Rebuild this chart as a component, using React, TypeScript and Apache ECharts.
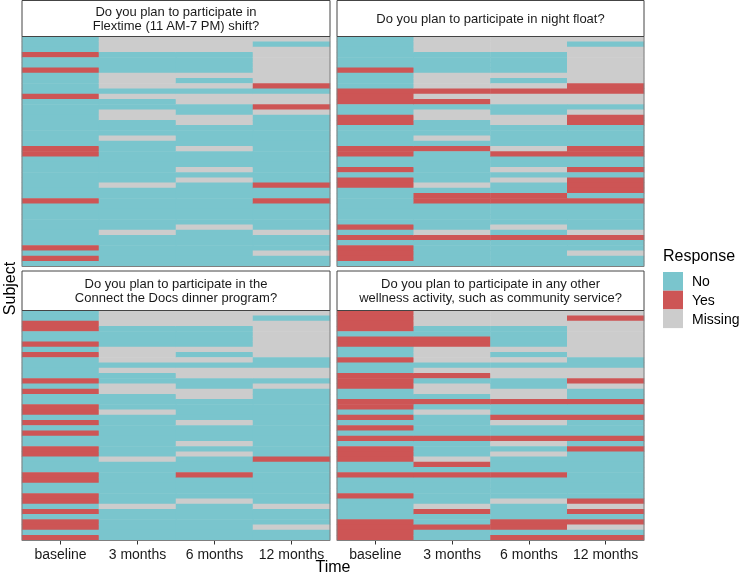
import React, { useEffect, useRef } from "react";
import * as echarts from "echarts";

// ---- Data ----
const timePoints = ["baseline", "3 months", "6 months", "12 months"];
const responseLabels = ["No", "Yes", "Missing"];
const responseColors = ["#7AC5CD", "#CD5555", "#CCCCCC"];

const questionTitles = [
  "Do you plan to participate in\nFlextime (11 AM-7 PM) shift?",
  "Do you plan to participate in night float?",
  "Do you plan to participate in the\nConnect the Docs dinner program?",
  "Do you plan to participate in any other\nwellness activity, such as community service?",
];

// One character per subject (top to bottom): N = No, Y = Yes, M = Missing
const flextimeBaseline = "NNNYNNYNNN" + "NYNNNNNNNN" + "NYYNNNNNNN" + "NYNNNNNNNN" + "YNYN";
const flextime3m = "MMMNNNNMMM" + "NMNNMMNNNM" + "NNNNNNNNMN" + "NNNNNNNMNN" + "NNNN";
const flextime6m = "MMMNNNNMNM" + "NMMNNMMNNN" + "NMNNNMNMNN" + "NNNNNNMNNN" + "NNNN";
const flextime12m = "MNMMMMMMMY" + "NMMYMNNNNN" + "NNNNNNNNYN" + "NYNNNNNMNN" + "NMNN";

const nightBaseline = "NNNNNNYNNN" + "YYYNNYYNNN" + "NYYNNYNYYN" + "NNNNNNYNYN" + "YYYN";
const night3m = "MMMNNNNMMM" + "YMYNMMNNNM" + "NYNNNNNNMN" + "YYNNNNNMYN" + "NNNN";
const night6m = "MMMNNNNMNM" + "YMMNNMMNNN" + "NMYNNMNMNN" + "YYNNNNMNYN" + "NNNN";
const night12m = "MNMMMMMMMY" + "YMMNMYYNNN" + "NYYNNYNYYY" + "NYNNNNNMYN" + "NMNN";

const docsBaseline = "NNYYNNYNYN" + "NNNYNYNNYY" + "NYNYNNYYNN" + "NYYNNYYNYN" + "YYNY";
const docs3m = "MMMNNNNMMM" + "NMNNMMNNNM" + "NNNNNNNNMN" + "NNNNNNNMNN" + "NNNN";
const docs6m = "MMMNNNNMNM" + "NMMNNMMNNN" + "NMNNNMNMNN" + "NYNNNNMNNN" + "NNNN";
const docs12m = "MNMMMMMMMN" + "NMMNMNNNNN" + "NNNNNNNNYN" + "NNNNNNNMNN" + "NMNN";

const otherBaseline = "YYYYNYYNNY" + "NNYYYNNYYN" + "YNYNYNYYYN" + "NYNNNYNNNN" + "YYYY";
const other3m = "MMMNNYYMMM" + "NMYNMMNYNM" + "NNNNYNNNMY" + "NYNNNNNMYN" + "NYNN";
const other6m = "MMMNNNNMNM" + "NMMNNMMYNN" + "YMNNYMNMNN" + "NYNNNNMNNN" + "YYNY";
const other12m = "MYMMMMMMMN" + "NMMYMNNYNN" + "YNNNYNYNNN" + "NNNNNNYMYN" + "YMNY";

const panelColumns = [
  [flextimeBaseline, flextime3m, flextime6m, flextime12m],
  [nightBaseline, night3m, night6m, night12m],
  [docsBaseline, docs3m, docs6m, docs12m],
  [otherBaseline, other3m, other6m, other12m],
];

const codeIndex: Record<string, number> = { N: 0, Y: 1, M: 2 };

// ---- Layout ----
const FONT = "'Liberation Sans', Arial, sans-serif";
const PANEL_LEFT = [22, 337];
const PANEL_WIDTH = [308, 307];
const PANEL_TOP = [36.5, 310.5];
const PANEL_H = 230;
const STRIP = [
  { y: 0.5, h: 36 },
  { y: 271, h: 39.5 },
];

export default function App() {
  const ref = useRef<HTMLDivElement>(null);

  useEffect(() => {
    if (!ref.current) return;
    const chart = echarts.init(ref.current, undefined, { renderer: "svg" });

    const nSubjects = panelColumns[0][0].length;
    const subjects = Array.from({ length: nSubjects }, (_, i) => "S" + (i + 1));

    const grids: any[] = [];
    const xAxes: any[] = [];
    const yAxes: any[] = [];
    const series: any[] = [];
    const graphics: any[] = [];

    panelColumns.forEach((cols, p) => {
      const col = p % 2;
      const row = Math.floor(p / 2);
      const left = PANEL_LEFT[col];
      const width = PANEL_WIDTH[col];
      const top = PANEL_TOP[row];
      grids.push({ left, top, width, height: PANEL_H, containLabel: false });
      xAxes.push({
        type: "category",
        gridIndex: p,
        data: timePoints,
        axisLine: { show: false },
        axisTick: {
          show: row === 1,
          alignWithLabel: true,
          interval: 0,
          length: 4,
          lineStyle: { color: "#333", width: 1 },
        },
        axisLabel: {
          show: row === 1,
          interval: 0,
          fontSize: 14,
          color: "#1a1a1a",
          fontFamily: FONT,
          margin: 6,
        },
        splitLine: { show: false },
      });
      yAxes.push({
        type: "category",
        gridIndex: p,
        data: subjects,
        inverse: true,
        show: false,
      });
      const data: number[][] = [];
      cols.forEach((str, t) => {
        for (let s = 0; s < str.length; s++) {
          data.push([t, s, codeIndex[str[s]]]);
        }
      });
      series.push({
        type: "heatmap",
        xAxisIndex: p,
        yAxisIndex: p,
        data,
        itemStyle: { borderWidth: 0 },
        emphasis: { disabled: true },
      });

      // panel border
      graphics.push({
        type: "rect",
        z: 100,
        shape: { x: left, y: top, width, height: PANEL_H },
        style: { fill: "none", stroke: "#7f7f7f", lineWidth: 1 },
      });
      // strip
      const st = STRIP[row];
      graphics.push({
        type: "rect",
        z: 100,
        shape: { x: left, y: st.y, width, height: st.h },
        style: { fill: "#ffffff", stroke: "#444", lineWidth: 1 },
      });
      graphics.push({
        type: "text",
        z: 101,
        x: left + width / 2,
        y: st.y + st.h / 2,
        style: {
          text: questionTitles[p],
          align: "center",
          verticalAlign: "middle",
          fontSize: 13,
          lineHeight: 14,
          fontFamily: FONT,
          fill: "#1a1a1a",
        },
      });
    });

    graphics.push({
      type: "text",
      x: (PANEL_LEFT[0] + PANEL_LEFT[1] + PANEL_WIDTH[1]) / 2,
      y: 566,
      style: {
        text: "Time",
        align: "center",
        verticalAlign: "middle",
        fontSize: 16,
        fontFamily: FONT,
        fill: "#000",
      },
    });
    graphics.push({
      type: "text",
      x: 9,
      y: (PANEL_TOP[0] + PANEL_TOP[1] + PANEL_H) / 2,
      rotation: Math.PI / 2,
      style: {
        text: "Subject",
        align: "center",
        verticalAlign: "middle",
        fontSize: 16,
        fontFamily: FONT,
        fill: "#000",
      },
    });
    graphics.push({
      type: "text",
      x: 663,
      y: 255,
      style: {
        text: "Response",
        align: "left",
        verticalAlign: "middle",
        fontSize: 16,
        fontFamily: FONT,
        fill: "#000",
      },
    });

    chart.setOption({
      animation: false,
      grid: grids,
      xAxis: xAxes,
      yAxis: yAxes,
      visualMap: {
        type: "piecewise",
        dimension: 2,
        seriesIndex: [0, 1, 2, 3],
        orient: "vertical",
        inverse: true,
        align: "left",
        left: 663,
        top: 272,
        padding: 0,
        itemWidth: 20,
        itemHeight: 18.7,
        itemGap: 0,
        itemSymbol: "rect",
        textGap: 9,
        hoverLink: false,
        selectedMode: false,
        textStyle: { fontSize: 14, color: "#000", fontFamily: FONT },
        pieces: responseLabels.map((label, i) => ({
          value: i,
          label,
          color: responseColors[i],
        })),
      },
      series,
      graphic: graphics,
    });

    return () => chart.dispose();
  }, []);

  return (
    <div
      ref={ref}
      style={{ position: "fixed", left: 0, top: 0, width: 740, height: 576 }}
    />
  );
}
